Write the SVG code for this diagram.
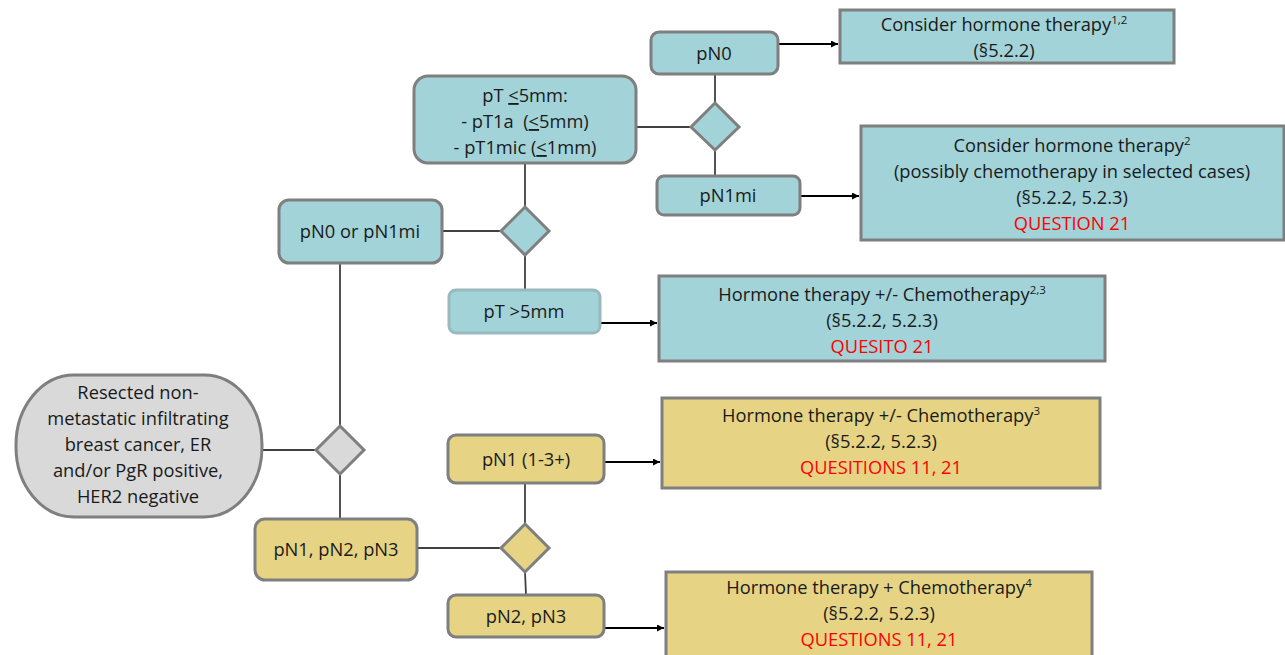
<svg xmlns="http://www.w3.org/2000/svg" width="1285" height="655" viewBox="0 0 1285 655">
<defs>
<marker id="arr" viewBox="0 0 10 10" refX="10" refY="5" markerWidth="8" markerHeight="7" orient="auto" markerUnits="userSpaceOnUse">
<path d="M0,0 L10,5 L0,10 z" fill="#000"/>
</marker>
<style>
.t{font-family:"Open Sans","Liberation Sans",sans-serif;font-size:18.3px;fill:#1a1a1a;text-anchor:middle}
.r{fill:#ff0000}
.sup{font-size:11.5px}
.teal{fill:#a2d3d8;stroke:#7f7f7f;stroke-width:3}
.yel{fill:#e6d484;stroke:#7f7f7f;stroke-width:3}
.gry{fill:#d9d9d9;stroke:#7f7f7f;stroke-width:3}
.ln{stroke:#404040;stroke-width:1.8;fill:none}
.ar{stroke:#000;stroke-width:1.8;fill:none;marker-end:url(#arr)}
</style>
</defs>
<rect width="1285" height="655" fill="#fff"/>

<g id="connectors">
<line class="ln" x1="262" y1="450" x2="316" y2="450"/>
<line class="ln" x1="340" y1="263" x2="340" y2="426"/>
<line class="ln" x1="340" y1="474" x2="340" y2="519"/>
<line class="ln" x1="442" y1="231" x2="501" y2="231"/>
<line class="ln" x1="525" y1="163" x2="525" y2="207"/>
<line class="ln" x1="525" y1="255" x2="525" y2="290"/>
<line class="ln" x1="636" y1="127" x2="691" y2="127"/>
<line class="ln" x1="715" y1="74" x2="715" y2="103"/>
<line class="ln" x1="715" y1="150" x2="715" y2="176"/>
<line class="ln" x1="417" y1="548" x2="502" y2="548"/>
<line class="ln" x1="525" y1="483" x2="525" y2="524"/>
<line class="ln" x1="525" y1="572" x2="526" y2="595"/>
<line class="ar" x1="778" y1="44" x2="838" y2="44"/>
<line class="ar" x1="800" y1="196" x2="859" y2="196"/>
<line class="ar" x1="600" y1="323" x2="657" y2="323"/>
<line class="ar" x1="604" y1="462" x2="660" y2="462"/>
<line class="ar" x1="604" y1="628" x2="664" y2="628"/>
</g>

<g id="start">
<rect class="gry" x="16" y="375" width="246" height="142" rx="58" ry="70"/>
<text class="t" x="138" y="399">Resected non-</text>
<text class="t" x="138" y="425">metastatic infiltrating</text>
<text class="t" x="138" y="451">breast cancer, ER</text>
<text class="t" x="138" y="477">and/or PgR positive,</text>
<text class="t" x="138" y="503">HER2 negative</text>
</g>

<g id="d-start"><polygon class="gry" points="340,426 364,450 340,474 316,450"/></g>

<g id="n-pn0pn1mi">
<rect class="teal" x="279" y="200" width="163" height="63" rx="10"/>
<text class="t" x="360" y="238">pN0 or pN1mi</text>
</g>

<g id="d-teal1"><polygon class="teal" points="525,207 549,231 525,255 501,231"/></g>

<g id="n-pt5">
<rect class="teal" x="414" y="76" width="222" height="87" rx="14"/>
<text class="t" x="525" y="102">pT <tspan text-decoration="underline">&lt;</tspan>5mm:</text>
<text class="t" x="525" y="128">- pT1a &#160;(<tspan text-decoration="underline">&lt;</tspan>5mm)</text>
<text class="t" x="525" y="154">- pT1mic (<tspan text-decoration="underline">&lt;</tspan>1mm)</text>
</g>

<g id="d-teal2"><polygon class="teal" points="715,103 739,127 715,150 691,127"/></g>

<g id="n-pn0">
<rect class="teal" x="651" y="32" width="127" height="42" rx="8"/>
<text class="t" x="714" y="60">pN0</text>
</g>

<g id="n-pn1mi">
<rect class="teal" x="657" y="176" width="143" height="39" rx="7"/>
<text class="t" x="728" y="202">pN1mi</text>
</g>

<g id="n-ptgt5">
<rect x="449" y="290" width="151" height="43" rx="7" fill="#a2d3d8" stroke="#9ab9bc" stroke-width="3"/>
<text class="t" x="524" y="318">pT &gt;5mm</text>
</g>

<g id="r-1">
<rect class="teal" x="840" y="10" width="334" height="53"/>
<text class="t" x="1004" y="31">Consider hormone therapy<tspan class="sup" dy="-7">1,2</tspan></text>
<text class="t" x="1004" y="57">(§5.2.2)</text>
</g>

<g id="r-2">
<rect class="teal" x="861" y="126" width="423" height="114"/>
<text class="t" x="1072" y="152">Consider hormone therapy<tspan class="sup" dy="-7">2</tspan></text>
<text class="t" x="1072" y="178">(possibly chemotherapy in selected cases)</text>
<text class="t" x="1072" y="204">(§5.2.2, 5.2.3)</text>
<text class="t r" x="1072" y="230">QUESTION 21</text>
</g>

<g id="r-3">
<rect class="teal" x="659" y="276" width="446" height="85"/>
<text class="t" x="882" y="301">Hormone therapy +/- Chemotherapy<tspan class="sup" dy="-7">2,3</tspan></text>
<text class="t" x="882" y="327">(§5.2.2, 5.2.3)</text>
<text class="t r" x="882" y="353">QUESITO 21</text>
</g>

<g id="n-pn123">
<rect class="yel" x="255" y="519" width="162" height="61" rx="10"/>
<text class="t" x="336" y="556">pN1, pN2, pN3</text>
</g>

<g id="d-yel"><polygon class="yel" points="525,524 549,548 525,572 501,548"/></g>

<g id="n-pn1">
<rect class="yel" x="448" y="435" width="156" height="48" rx="8"/>
<text class="t" x="526" y="466">pN1 (1-3+)</text>
</g>

<g id="n-pn23">
<rect class="yel" x="448" y="595" width="156" height="42" rx="8"/>
<text class="t" x="526" y="623">pN2, pN3</text>
</g>

<g id="r-4">
<rect class="yel" x="662" y="398" width="438" height="90"/>
<text class="t" x="881" y="422">Hormone therapy +/- Chemotherapy<tspan class="sup" dy="-7">3</tspan></text>
<text class="t" x="881" y="448">(§5.2.2, 5.2.3)</text>
<text class="t r" x="881" y="474">QUESITIONS 11, 21</text>
</g>

<g id="r-5">
<rect class="yel" x="666" y="572" width="426" height="88"/>
<text class="t" x="879" y="594">Hormone therapy + Chemotherapy<tspan class="sup" dy="-7">4</tspan></text>
<text class="t" x="879" y="620">(§5.2.2, 5.2.3)</text>
<text class="t r" x="879" y="646">QUESTIONS 11, 21</text>
</g>
</svg>
